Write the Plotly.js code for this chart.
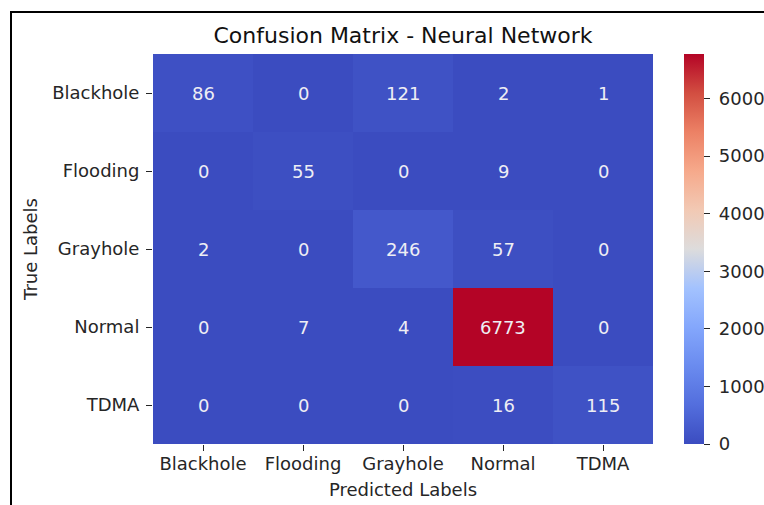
<!DOCTYPE html>
<html>
<head>
<meta charset="utf-8">
<script src="https://cdn.plot.ly/plotly-3.0.1.min.js"></script>
<style>
  html, body { margin: 0; padding: 0; background: #fff; }
  #wrap { position: relative; width: 764px; height: 505px; overflow: hidden; }
  #chart { position: absolute; left: 0; top: 0; width: 764px; height: 505px; }
  #frame {
    position: absolute; left: 10px; top: 11px; right: -10px; bottom: -10px;
    border-left: 2px solid #000; border-top: 2px solid #000;
    pointer-events: none;
  }
</style>
</head>
<body>
<div id="wrap">
  <div id="chart"></div>
  <div id="frame"></div>
</div>
<script>
// Class labels (predicted = columns, true = rows)
const predictedLabels = ["Blackhole", "Flooding", "Grayhole", "Normal", "TDMA"];
const trueLabels = ["Blackhole", "Flooding", "Grayhole", "Normal", "TDMA"];

// Confusion matrix counts, one row per true class
const rowBlackhole = [86, 0, 121, 2, 1];
const rowFlooding = [0, 55, 0, 9, 0];
const rowGrayhole = [2, 0, 246, 57, 0];
const rowNormal = [0, 7, 4, 6773, 0];
const rowTDMA = [0, 0, 0, 16, 115];

const counts = [rowBlackhole, rowFlooding, rowGrayhole, rowNormal, rowTDMA];

// Colorbar ticks
const cbTicks = [0, 1000, 2000, 3000, 4000, 5000, 6000];

// Diverging blue-red scale (coolwarm)
const coolwarm = [
  [0.0, "#3b4cc0"],
  [0.1, "#536edd"],
  [0.2, "#6a8bef"],
  [0.3, "#84a7fc"],
  [0.4, "#a3c2fe"],
  [0.5, "#dddcdc"],
  [0.6, "#f2c9b4"],
  [0.7, "#f6a98b"],
  [0.8, "#ec8165"],
  [0.9, "#d24e41"],
  [1.0, "#b40426"]
];

const font = "DejaVu Sans, sans-serif";
const ink = "#262626";

const annotations = [];
counts.forEach((row, i) => {
  row.forEach((v, j) => {
    annotations.push({
      x: predictedLabels[j], y: trueLabels[i], xref: "x", yref: "y",
      text: String(v), showarrow: false,
      font: { family: font, size: 18, color: "#eeeef4" }
    });
  });
});

const trace = {
  type: "heatmap",
  x: predictedLabels,
  y: trueLabels,
  z: counts,
  colorscale: coolwarm,
  zmin: 0,
  zmax: Math.max(...counts.flat()),
  hoverinfo: "skip",
  colorbar: {
    x: 1.062, xanchor: "left", xref: "paper",
    y: 0.5, yanchor: "middle",
    thickness: 20, thicknessmode: "pixels",
    len: 390, lenmode: "pixels",
    outlinewidth: 0,
    tickvals: cbTicks,
    // leading no-break space widens the gap between tick mark and label
    ticktext: cbTicks.map(v => "\u00a0" + v),
    ticks: "outside", ticklen: 6, tickwidth: 1, tickcolor: ink,
    tickfont: { family: font, size: 18, color: ink },
    xpad: 0, ypad: 0
  }
};

const layout = {
  width: 764, height: 505,
  margin: { l: 153, r: 111, t: 54, b: 61, autoexpand: false },
  paper_bgcolor: "#fff", plot_bgcolor: "#fff",
  title: {
    text: "Confusion Matrix - Neural Network",
    font: { family: font, size: 22, color: "#111" },
    x: 0.5, xref: "paper", xanchor: "center",
    y: 1, yref: "paper", yanchor: "bottom", pad: { b: 11 }
  },
  xaxis: {
    type: "category",
    ticks: "outside", ticklen: 6, tickwidth: 1, tickcolor: ink,
    tickfont: { family: font, size: 18, color: ink },
    ticklabelstandoff: -3,
    showgrid: false, zeroline: false, showline: false,
    title: { text: "Predicted Labels", font: { family: font, size: 18, color: ink }, standoff: 10 }
  },
  yaxis: {
    type: "category", autorange: "reversed",
    ticks: "outside", ticklen: 6, tickwidth: 1, tickcolor: ink,
    tickfont: { family: font, size: 18, color: ink },
    ticklabelstandoff: 3,
    showgrid: false, zeroline: false, showline: false,
    title: { text: "True Labels", font: { family: font, size: 18, color: ink }, standoff: 9 }
  },
  annotations: annotations
};

Plotly.newPlot("chart", [trace], layout, { staticPlot: true, displayModeBar: false });
</script>
</body>
</html>
